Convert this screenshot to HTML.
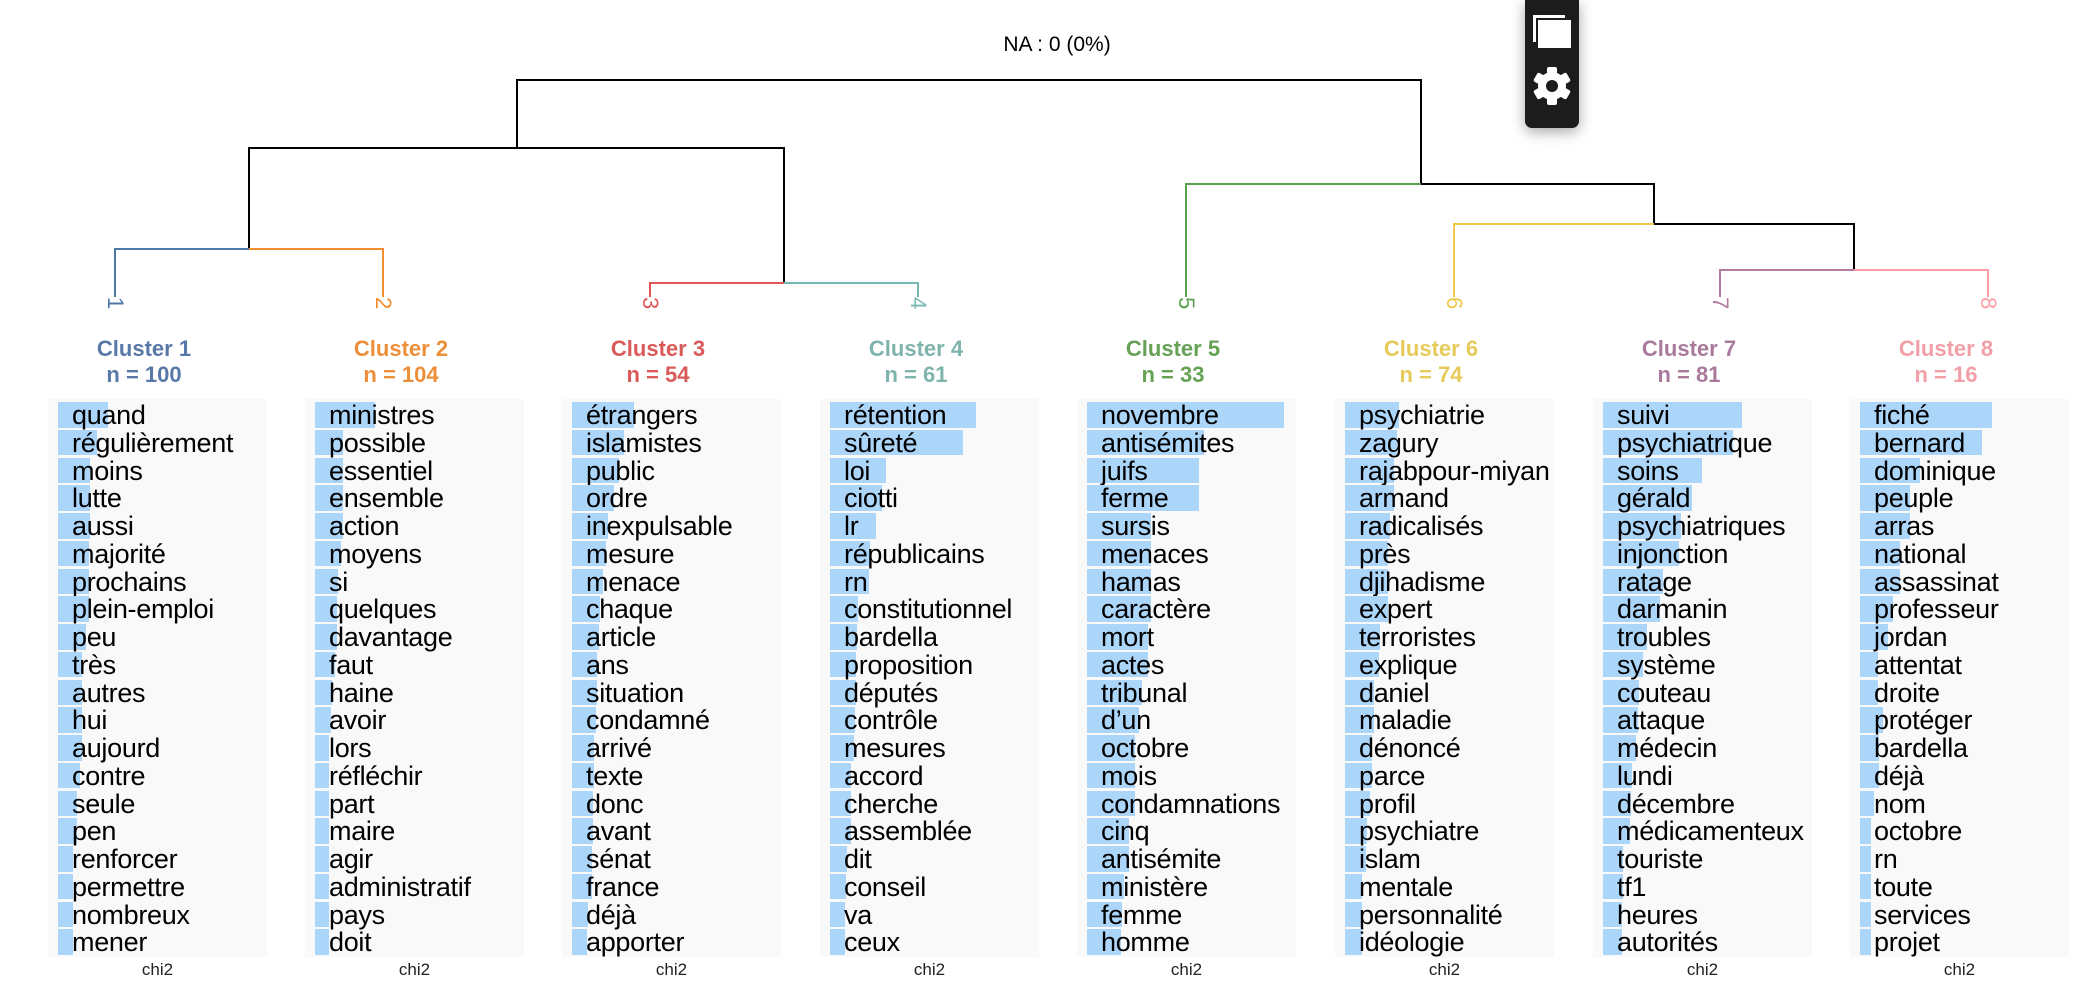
<!DOCTYPE html>
<html><head><meta charset="utf-8">
<style>
html,body{margin:0;padding:0;background:#fff;}
body{width:2078px;height:994px;position:relative;overflow:hidden;font-family:"Liberation Sans",Arial,sans-serif;}
.p{position:absolute;top:399px;width:219px;height:558px;background:#f9f9f9;}
.r{position:relative;height:27.75px;}
.p .r:first-child{margin-top:3px;}
.b{position:absolute;left:10px;top:0;height:25.5px;background:#acd5fa;}
.t{position:absolute;left:24px;top:1px;line-height:25.5px;font-size:27px;color:#000;white-space:nowrap;letter-spacing:-0.3px;}
.h{position:absolute;top:336px;width:200px;text-align:center;font-weight:bold;font-size:22px;line-height:26px;}
.c{position:absolute;top:960px;width:219px;text-align:center;font-size:17px;color:#222;}
.tb{position:absolute;left:1525px;top:0;width:54px;height:128px;background:#1c1c1c;border-radius:0 0 7px 7px;box-shadow:0 4px 14px rgba(0,0,0,0.35);}
</style></head><body>
<svg width="2078" height="994" style="position:absolute;left:0;top:0">
<defs><clipPath id="cl"><rect x="0" y="295" width="2078" height="15"/></clipPath></defs>
<text x="1057" y="51" font-size="21" text-anchor="middle" font-family="Liberation Sans, Arial, sans-serif" fill="#000">NA : 0 (0%)</text>
<g fill="none" stroke-width="2">
<path d="M517 148 V80 H1421 V184" stroke="#000"/>
<path d="M249 249 V148 H784 V283" stroke="#000"/>
<path d="M1421 184 H1654 V224 H1854 V270" stroke="#000" />
<path d="M115 297 V249 H249" stroke="#4e79a7"/>
<path d="M249 249 H383 V297" stroke="#f28e2b"/>
<path d="M650 297 V283 H784" stroke="#e15759"/>
<path d="M784 283 H918 V297" stroke="#76b7b2"/>
<path d="M1186 297 V184 H1421" stroke="#59a14f"/>
<path d="M1454 297 V224 H1654" stroke="#edc948"/>
<path d="M1720 297 V270 H1854" stroke="#b07aa1"/>
<path d="M1854 270 H1988 V297" stroke="#ff9da7"/>
</g>
<g clip-path="url(#cl)" font-size="22" font-family="Liberation Sans, Arial, sans-serif">
<text transform="translate(108,297) rotate(90)" fill="#4e79a7">1</text>
<text transform="translate(376,297) rotate(90)" fill="#f28e2b">2</text>
<text transform="translate(643,297) rotate(90)" fill="#e15759">3</text>
<text transform="translate(911,297) rotate(90)" fill="#76b7b2">4</text>
<text transform="translate(1179,297) rotate(90)" fill="#59a14f">5</text>
<text transform="translate(1447,297) rotate(90)" fill="#edc948">6</text>
<text transform="translate(1713,297) rotate(90)" fill="#b07aa1">7</text>
<text transform="translate(1981,297) rotate(90)" fill="#ff9da7">8</text>
</g>
</svg>

<div class="tb">
<svg width="54" height="128">
<rect x="8" y="15" width="32" height="27" fill="#fff"/>
<rect x="11" y="18" width="32" height="28" fill="#1c1c1c"/>
<rect x="13" y="20" width="33" height="28" fill="#fff"/>
<g transform="translate(27,86)" fill="#fff">
<circle r="14"/>
<rect x="-5" y="-19" width="10" height="38" rx="2"/>
<rect x="-5" y="-19" width="10" height="38" rx="2" transform="rotate(60)"/>
<rect x="-5" y="-19" width="10" height="38" rx="2" transform="rotate(120)"/>
<circle r="6" fill="#1c1c1c"/>
</g>
</svg>
</div>

<div class="h" style="left:44px;color:#5878a8">Cluster 1<br>n = 100</div>
<div class="h" style="left:301px;color:#ec8f38">Cluster 2<br>n = 104</div>
<div class="h" style="left:558px;color:#d95a59">Cluster 3<br>n = 54</div>
<div class="h" style="left:816px;color:#7fb4ad">Cluster 4<br>n = 61</div>
<div class="h" style="left:1073px;color:#66a156">Cluster 5<br>n = 33</div>
<div class="h" style="left:1331px;color:#e6ca5a">Cluster 6<br>n = 74</div>
<div class="h" style="left:1589px;color:#a97a9c">Cluster 7<br>n = 81</div>
<div class="h" style="left:1846px;color:#f2a0a8">Cluster 8<br>n = 16</div>

<div class="p" style="left:48px">
<div class="r"><div class="b" style="width:50px"></div><div class="t">quand</div></div>
<div class="r"><div class="b" style="width:39px"></div><div class="t">régulièrement</div></div>
<div class="r"><div class="b" style="width:32px"></div><div class="t">moins</div></div>
<div class="r"><div class="b" style="width:32px"></div><div class="t">lutte</div></div>
<div class="r"><div class="b" style="width:32px"></div><div class="t">aussi</div></div>
<div class="r"><div class="b" style="width:31px"></div><div class="t">majorité</div></div>
<div class="r"><div class="b" style="width:31px"></div><div class="t">prochains</div></div>
<div class="r"><div class="b" style="width:31px"></div><div class="t">plein-emploi</div></div>
<div class="r"><div class="b" style="width:28px"></div><div class="t">peu</div></div>
<div class="r"><div class="b" style="width:24px"></div><div class="t">très</div></div>
<div class="r"><div class="b" style="width:24px"></div><div class="t">autres</div></div>
<div class="r"><div class="b" style="width:24px"></div><div class="t">hui</div></div>
<div class="r"><div class="b" style="width:24px"></div><div class="t">aujourd</div></div>
<div class="r"><div class="b" style="width:22px"></div><div class="t">contre</div></div>
<div class="r"><div class="b" style="width:19px"></div><div class="t">seule</div></div>
<div class="r"><div class="b" style="width:19px"></div><div class="t">pen</div></div>
<div class="r"><div class="b" style="width:15px"></div><div class="t">renforcer</div></div>
<div class="r"><div class="b" style="width:15px"></div><div class="t">permettre</div></div>
<div class="r"><div class="b" style="width:15px"></div><div class="t">nombreux</div></div>
<div class="r"><div class="b" style="width:15px"></div><div class="t">mener</div></div>
</div>

<div class="p" style="left:305px">
<div class="r"><div class="b" style="width:60px"></div><div class="t">ministres</div></div>
<div class="r"><div class="b" style="width:28px"></div><div class="t">possible</div></div>
<div class="r"><div class="b" style="width:28px"></div><div class="t">essentiel</div></div>
<div class="r"><div class="b" style="width:28px"></div><div class="t">ensemble</div></div>
<div class="r"><div class="b" style="width:28px"></div><div class="t">action</div></div>
<div class="r"><div class="b" style="width:26px"></div><div class="t">moyens</div></div>
<div class="r"><div class="b" style="width:23px"></div><div class="t">si</div></div>
<div class="r"><div class="b" style="width:22px"></div><div class="t">quelques</div></div>
<div class="r"><div class="b" style="width:22px"></div><div class="t">davantage</div></div>
<div class="r"><div class="b" style="width:20px"></div><div class="t">faut</div></div>
<div class="r"><div class="b" style="width:17px"></div><div class="t">haine</div></div>
<div class="r"><div class="b" style="width:16px"></div><div class="t">avoir</div></div>
<div class="r"><div class="b" style="width:14px"></div><div class="t">lors</div></div>
<div class="r"><div class="b" style="width:14px"></div><div class="t">réfléchir</div></div>
<div class="r"><div class="b" style="width:14px"></div><div class="t">part</div></div>
<div class="r"><div class="b" style="width:14px"></div><div class="t">maire</div></div>
<div class="r"><div class="b" style="width:14px"></div><div class="t">agir</div></div>
<div class="r"><div class="b" style="width:14px"></div><div class="t">administratif</div></div>
<div class="r"><div class="b" style="width:14px"></div><div class="t">pays</div></div>
<div class="r"><div class="b" style="width:14px"></div><div class="t">doit</div></div>
</div>

<div class="p" style="left:562px">
<div class="r"><div class="b" style="width:62px"></div><div class="t">étrangers</div></div>
<div class="r"><div class="b" style="width:52px"></div><div class="t">islamistes</div></div>
<div class="r"><div class="b" style="width:47px"></div><div class="t">public</div></div>
<div class="r"><div class="b" style="width:42px"></div><div class="t">ordre</div></div>
<div class="r"><div class="b" style="width:36px"></div><div class="t">inexpulsable</div></div>
<div class="r"><div class="b" style="width:34px"></div><div class="t">mesure</div></div>
<div class="r"><div class="b" style="width:31px"></div><div class="t">menace</div></div>
<div class="r"><div class="b" style="width:28px"></div><div class="t">chaque</div></div>
<div class="r"><div class="b" style="width:27px"></div><div class="t">article</div></div>
<div class="r"><div class="b" style="width:25px"></div><div class="t">ans</div></div>
<div class="r"><div class="b" style="width:25px"></div><div class="t">situation</div></div>
<div class="r"><div class="b" style="width:24px"></div><div class="t">condamné</div></div>
<div class="r"><div class="b" style="width:22px"></div><div class="t">arrivé</div></div>
<div class="r"><div class="b" style="width:22px"></div><div class="t">texte</div></div>
<div class="r"><div class="b" style="width:21px"></div><div class="t">donc</div></div>
<div class="r"><div class="b" style="width:21px"></div><div class="t">avant</div></div>
<div class="r"><div class="b" style="width:20px"></div><div class="t">sénat</div></div>
<div class="r"><div class="b" style="width:20px"></div><div class="t">france</div></div>
<div class="r"><div class="b" style="width:16px"></div><div class="t">déjà</div></div>
<div class="r"><div class="b" style="width:15px"></div><div class="t">apporter</div></div>
</div>

<div class="p" style="left:820px">
<div class="r"><div class="b" style="width:146px"></div><div class="t">rétention</div></div>
<div class="r"><div class="b" style="width:133px"></div><div class="t">sûreté</div></div>
<div class="r"><div class="b" style="width:56px"></div><div class="t">loi</div></div>
<div class="r"><div class="b" style="width:52px"></div><div class="t">ciotti</div></div>
<div class="r"><div class="b" style="width:46px"></div><div class="t">lr</div></div>
<div class="r"><div class="b" style="width:40px"></div><div class="t">républicains</div></div>
<div class="r"><div class="b" style="width:39px"></div><div class="t">rn</div></div>
<div class="r"><div class="b" style="width:28px"></div><div class="t">constitutionnel</div></div>
<div class="r"><div class="b" style="width:27px"></div><div class="t">bardella</div></div>
<div class="r"><div class="b" style="width:26px"></div><div class="t">proposition</div></div>
<div class="r"><div class="b" style="width:26px"></div><div class="t">députés</div></div>
<div class="r"><div class="b" style="width:25px"></div><div class="t">contrôle</div></div>
<div class="r"><div class="b" style="width:24px"></div><div class="t">mesures</div></div>
<div class="r"><div class="b" style="width:21px"></div><div class="t">accord</div></div>
<div class="r"><div class="b" style="width:21px"></div><div class="t">cherche</div></div>
<div class="r"><div class="b" style="width:21px"></div><div class="t">assemblée</div></div>
<div class="r"><div class="b" style="width:17px"></div><div class="t">dit</div></div>
<div class="r"><div class="b" style="width:16px"></div><div class="t">conseil</div></div>
<div class="r"><div class="b" style="width:15px"></div><div class="t">va</div></div>
<div class="r"><div class="b" style="width:15px"></div><div class="t">ceux</div></div>
</div>

<div class="p" style="left:1077px">
<div class="r"><div class="b" style="width:197px"></div><div class="t">novembre</div></div>
<div class="r"><div class="b" style="width:117px"></div><div class="t">antisémites</div></div>
<div class="r"><div class="b" style="width:112px"></div><div class="t">juifs</div></div>
<div class="r"><div class="b" style="width:112px"></div><div class="t">ferme</div></div>
<div class="r"><div class="b" style="width:64px"></div><div class="t">sursis</div></div>
<div class="r"><div class="b" style="width:64px"></div><div class="t">menaces</div></div>
<div class="r"><div class="b" style="width:64px"></div><div class="t">hamas</div></div>
<div class="r"><div class="b" style="width:64px"></div><div class="t">caractère</div></div>
<div class="r"><div class="b" style="width:61px"></div><div class="t">mort</div></div>
<div class="r"><div class="b" style="width:61px"></div><div class="t">actes</div></div>
<div class="r"><div class="b" style="width:55px"></div><div class="t">tribunal</div></div>
<div class="r"><div class="b" style="width:52px"></div><div class="t">d’un</div></div>
<div class="r"><div class="b" style="width:48px"></div><div class="t">octobre</div></div>
<div class="r"><div class="b" style="width:48px"></div><div class="t">mois</div></div>
<div class="r"><div class="b" style="width:48px"></div><div class="t">condamnations</div></div>
<div class="r"><div class="b" style="width:42px"></div><div class="t">cinq</div></div>
<div class="r"><div class="b" style="width:42px"></div><div class="t">antisémite</div></div>
<div class="r"><div class="b" style="width:37px"></div><div class="t">ministère</div></div>
<div class="r"><div class="b" style="width:35px"></div><div class="t">femme</div></div>
<div class="r"><div class="b" style="width:34px"></div><div class="t">homme</div></div>
</div>

<div class="p" style="left:1335px">
<div class="r"><div class="b" style="width:54px"></div><div class="t">psychiatrie</div></div>
<div class="r"><div class="b" style="width:52px"></div><div class="t">zagury</div></div>
<div class="r"><div class="b" style="width:49px"></div><div class="t">rajabpour-miyan</div></div>
<div class="r"><div class="b" style="width:49px"></div><div class="t">armand</div></div>
<div class="r"><div class="b" style="width:45px"></div><div class="t">radicalisés</div></div>
<div class="r"><div class="b" style="width:43px"></div><div class="t">près</div></div>
<div class="r"><div class="b" style="width:43px"></div><div class="t">djihadisme</div></div>
<div class="r"><div class="b" style="width:43px"></div><div class="t">expert</div></div>
<div class="r"><div class="b" style="width:35px"></div><div class="t">terroristes</div></div>
<div class="r"><div class="b" style="width:34px"></div><div class="t">explique</div></div>
<div class="r"><div class="b" style="width:29px"></div><div class="t">daniel</div></div>
<div class="r"><div class="b" style="width:29px"></div><div class="t">maladie</div></div>
<div class="r"><div class="b" style="width:27px"></div><div class="t">dénoncé</div></div>
<div class="r"><div class="b" style="width:27px"></div><div class="t">parce</div></div>
<div class="r"><div class="b" style="width:25px"></div><div class="t">profil</div></div>
<div class="r"><div class="b" style="width:22px"></div><div class="t">psychiatre</div></div>
<div class="r"><div class="b" style="width:21px"></div><div class="t">islam</div></div>
<div class="r"><div class="b" style="width:17px"></div><div class="t">mentale</div></div>
<div class="r"><div class="b" style="width:17px"></div><div class="t">personnalité</div></div>
<div class="r"><div class="b" style="width:17px"></div><div class="t">idéologie</div></div>
</div>

<div class="p" style="left:1593px">
<div class="r"><div class="b" style="width:139px"></div><div class="t">suivi</div></div>
<div class="r"><div class="b" style="width:130px"></div><div class="t">psychiatrique</div></div>
<div class="r"><div class="b" style="width:99px"></div><div class="t">soins</div></div>
<div class="r"><div class="b" style="width:89px"></div><div class="t">gérald</div></div>
<div class="r"><div class="b" style="width:78px"></div><div class="t">psychiatriques</div></div>
<div class="r"><div class="b" style="width:76px"></div><div class="t">injonction</div></div>
<div class="r"><div class="b" style="width:60px"></div><div class="t">ratage</div></div>
<div class="r"><div class="b" style="width:57px"></div><div class="t">darmanin</div></div>
<div class="r"><div class="b" style="width:44px"></div><div class="t">troubles</div></div>
<div class="r"><div class="b" style="width:40px"></div><div class="t">système</div></div>
<div class="r"><div class="b" style="width:36px"></div><div class="t">couteau</div></div>
<div class="r"><div class="b" style="width:35px"></div><div class="t">attaque</div></div>
<div class="r"><div class="b" style="width:33px"></div><div class="t">médecin</div></div>
<div class="r"><div class="b" style="width:29px"></div><div class="t">lundi</div></div>
<div class="r"><div class="b" style="width:28px"></div><div class="t">décembre</div></div>
<div class="r"><div class="b" style="width:27px"></div><div class="t">médicamenteux</div></div>
<div class="r"><div class="b" style="width:20px"></div><div class="t">touriste</div></div>
<div class="r"><div class="b" style="width:20px"></div><div class="t">tf1</div></div>
<div class="r"><div class="b" style="width:19px"></div><div class="t">heures</div></div>
<div class="r"><div class="b" style="width:19px"></div><div class="t">autorités</div></div>
</div>

<div class="p" style="left:1850px">
<div class="r"><div class="b" style="width:132px"></div><div class="t">fiché</div></div>
<div class="r"><div class="b" style="width:122px"></div><div class="t">bernard</div></div>
<div class="r"><div class="b" style="width:60px"></div><div class="t">dominique</div></div>
<div class="r"><div class="b" style="width:50px"></div><div class="t">peuple</div></div>
<div class="r"><div class="b" style="width:50px"></div><div class="t">arras</div></div>
<div class="r"><div class="b" style="width:40px"></div><div class="t">national</div></div>
<div class="r"><div class="b" style="width:40px"></div><div class="t">assassinat</div></div>
<div class="r"><div class="b" style="width:33px"></div><div class="t">professeur</div></div>
<div class="r"><div class="b" style="width:28px"></div><div class="t">jordan</div></div>
<div class="r"><div class="b" style="width:18px"></div><div class="t">attentat</div></div>
<div class="r"><div class="b" style="width:18px"></div><div class="t">droite</div></div>
<div class="r"><div class="b" style="width:23px"></div><div class="t">protéger</div></div>
<div class="r"><div class="b" style="width:19px"></div><div class="t">bardella</div></div>
<div class="r"><div class="b" style="width:19px"></div><div class="t">déjà</div></div>
<div class="r"><div class="b" style="width:14px"></div><div class="t">nom</div></div>
<div class="r"><div class="b" style="width:11px"></div><div class="t">octobre</div></div>
<div class="r"><div class="b" style="width:11px"></div><div class="t">rn</div></div>
<div class="r"><div class="b" style="width:11px"></div><div class="t">toute</div></div>
<div class="r"><div class="b" style="width:11px"></div><div class="t">services</div></div>
<div class="r"><div class="b" style="width:11px"></div><div class="t">projet</div></div>
</div>

<div class="c" style="left:48px">chi2</div>
<div class="c" style="left:305px">chi2</div>
<div class="c" style="left:562px">chi2</div>
<div class="c" style="left:820px">chi2</div>
<div class="c" style="left:1077px">chi2</div>
<div class="c" style="left:1335px">chi2</div>
<div class="c" style="left:1593px">chi2</div>
<div class="c" style="left:1850px">chi2</div>
</body></html>
